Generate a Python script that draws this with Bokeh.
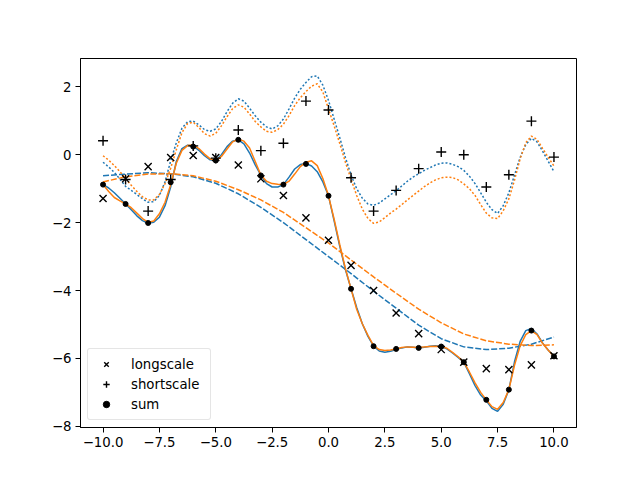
from bokeh.plotting import figure
from bokeh.models import Range1d, FixedTicker, CustomJSTickFormatter
from bokeh.embed import file_html
from bokeh.resources import INLINE

# observed points
x_pts = [-10, -9, -8, -7, -6, -5, -4, -3, -2, -1, 0, 1, 2, 3, 4, 5, 6, 7, 8, 9, 10]
longscale = [-1.29, -0.71, -0.35, -0.08, -0.02, -0.08, -0.3, -0.71, -1.2, -1.86, -2.52,
             -3.26, -4.0, -4.66, -5.27, -5.74, -6.11, -6.3, -6.33, -6.19, -5.92]
shortscale = [0.41, -0.73, -1.66, -0.73, 0.26, -0.1, 0.73, 0.12, 0.34, 1.58, 1.32,
              -0.68, -1.66, -1.05, -0.41, 0.08, 0.0, -0.95, -0.59, 0.99, -0.07]
sum_vals = [-0.88, -1.45, -2.01, -0.81, 0.24, -0.17, 0.44, -0.61, -0.88, -0.27, -1.21,
            -3.95, -5.64, -5.72, -5.69, -5.65, -6.11, -7.22, -6.92, -5.18, -5.94]

# model curves, read at quarter-unit steps from -10 to 10
x_curve = [-10 + 0.25 * i for i in range(81)]
sum_blue = [-0.88, -0.98, -1.12, -1.28, -1.45, -1.62, -1.8, -1.94, -2.02, -1.99, -1.84, -1.5,
            -0.95, -0.2, 0.18, 0.28, 0.26, 0.13, -0.03, -0.15, -0.17, 0.0, 0.24, 0.4, 0.44,
            0.32, 0.05, -0.3, -0.6, -0.85, -0.95, -0.95, -0.88, -0.66, -0.42, -0.29, -0.26,
            -0.33, -0.5, -0.8, -1.21, -1.95, -2.7, -3.38, -3.95, -4.5, -4.98, -5.35, -5.64,
            -5.78, -5.82, -5.79, -5.74, -5.69, -5.66, -5.67, -5.69, -5.67, -5.64, -5.63, -5.65,
            -5.72, -5.84, -5.97, -6.11, -6.45, -6.8, -7.08, -7.25, -7.47, -7.56, -7.35, -6.92,
            -6.1, -5.5, -5.18, -5.12, -5.28, -5.55, -5.76, -5.94]
sum_orange = [-0.88, -1.08, -1.26, -1.36, -1.45, -1.56, -1.72, -1.88, -1.99, -1.95, -1.74, -1.4,
              -0.88, -0.25, 0.13, 0.27, 0.29, 0.18, 0.02, -0.12, -0.18, -0.05, 0.17, 0.38, 0.46,
              0.4, 0.2, -0.2, -0.6, -0.78, -0.85, -0.87, -0.88, -0.78, -0.57, -0.35, -0.22,
              -0.18, -0.32, -0.7, -1.21, -1.9, -2.65, -3.35, -3.95, -4.55, -4.98, -5.32, -5.62,
              -5.74, -5.77, -5.75, -5.72, -5.68, -5.66, -5.67, -5.68, -5.66, -5.65, -5.64, -5.65,
              -5.7, -5.82, -5.95, -6.11, -6.4, -6.72, -7.0, -7.22, -7.42, -7.5, -7.3, -6.92,
              -6.2, -5.63, -5.3, -5.18, -5.3, -5.56, -5.76, -5.94]
short_blue = [-0.22, -0.36, -0.52, -0.72, -0.93, -1.05, -1.17, -1.3, -1.4, -1.38, -1.2, -0.8,
              -0.18, 0.35, 0.78, 0.97, 0.99, 0.88, 0.74, 0.69, 0.76, 0.98, 1.27, 1.52, 1.65,
              1.58, 1.37, 1.15, 0.96, 0.82, 0.76, 0.85, 1.05, 1.35, 1.67, 1.93, 2.13, 2.3, 2.32,
              2.05, 1.6, 1.05, 0.5, -0.08, -0.6, -1.0, -1.28, -1.45, -1.49, -1.42, -1.3, -1.18,
              -1.06, -0.92, -0.78, -0.66, -0.56, -0.46, -0.38, -0.3, -0.25, -0.24, -0.28, -0.35,
              -0.46, -0.63, -0.85, -1.12, -1.4, -1.62, -1.73, -1.5, -1.12, -0.6, -0.08, 0.3,
              0.48, 0.38, 0.1, -0.2, -0.5]
short_orange = [-0.03, -0.16, -0.32, -0.5, -0.7, -0.9, -1.08, -1.24, -1.33, -1.33, -1.17, -0.85,
                -0.4, 0.15, 0.65, 0.92, 0.96, 0.8, 0.62, 0.55, 0.63, 0.85, 1.12, 1.36, 1.47,
                1.4, 1.2, 0.98, 0.82, 0.69, 0.66, 0.74, 0.9, 1.15, 1.45, 1.68, 1.86, 2.02, 2.09,
                1.85, 1.35, 0.85, 0.33, -0.22, -0.72, -1.2, -1.6, -1.88, -2.02, -1.98, -1.85,
                -1.72, -1.6, -1.47, -1.33, -1.2, -1.07, -0.94, -0.83, -0.74, -0.68, -0.66, -0.67,
                -0.74, -0.86, -1.0, -1.2, -1.47, -1.72, -1.86, -1.88, -1.65, -1.3, -0.75, -0.12,
                0.35, 0.55, 0.45, 0.18, -0.08, -0.33]
x_long = [-10, -9, -8, -7, -6, -5, -4, -3, -2, -1, 0, 1, 2, 3, 4, 5, 6, 7, 8, 9, 10]
long_blue = [-0.62, -0.57, -0.53, -0.56, -0.65, -0.84, -1.15, -1.55, -2.0, -2.5, -3.0,
             -3.5, -4.02, -4.52, -5.02, -5.42, -5.66, -5.74, -5.7, -5.58, -5.37]
long_orange = [-0.8, -0.65, -0.57, -0.56, -0.62, -0.78, -1.03, -1.33, -1.7, -2.15, -2.6,
               -3.1, -3.6, -4.08, -4.55, -4.95, -5.28, -5.48, -5.58, -5.62, -5.6]

x_ticks = [-10, -7.5, -5, -2.5, 0, 2.5, 5, 7.5, 10]
y_ticks = [-8, -6, -4, -2, 0, 2]

BLUE = "#1f77b4"
ORANGE = "#ff7f0e"

p = figure(width=624, height=464, output_backend="svg", toolbar_location=None,
           x_range=Range1d(-11, 11), y_range=Range1d(-8.035, 2.835))
p.min_border_left = 80
p.min_border_right = 48
p.min_border_top = 58
p.min_border_bottom = 37
p.background_fill_color = "white"
p.border_fill_color = "white"
p.outline_line_color = "black"
p.outline_line_width = 1
p.grid.visible = False

for ax, ticks, code in ((p.xaxis[0], x_ticks, "return tick.toFixed(1).replace('-', '\\u2212');"),
                        (p.yaxis[0], y_ticks, "return tick.toFixed(0).replace('-', '\\u2212');")):
    ax.ticker = FixedTicker(ticks=ticks)
    ax.formatter = CustomJSTickFormatter(code=code)
    ax.major_tick_in = 0
    ax.major_tick_out = 5
    ax.minor_tick_line_color = None
    ax.axis_line_color = "black"
    ax.major_tick_line_color = "black"
    ax.major_label_text_color = "black"
    ax.major_label_text_font = "DejaVu Sans"
    ax.major_label_text_font_size = "13.3px"
    ax.major_label_standoff = 4

p.line(x_curve, sum_blue, line_color=BLUE, line_width=1.5)
p.line(x_long, long_blue, line_color=BLUE, line_width=1.5, line_dash="6 2")
p.line(x_curve, short_blue, line_color=BLUE, line_width=1.5, line_dash="2 2")
p.line(x_curve, sum_orange, line_color=ORANGE, line_width=1.5)
p.line(x_long, long_orange, line_color=ORANGE, line_width=1.5, line_dash="6 2")
p.line(x_curve, short_orange, line_color=ORANGE, line_width=1.5, line_dash="2 2")

p.scatter(x_pts, longscale, marker="x", size=10, line_color="black", line_width=1.4,
          legend_label="longscale")
p.scatter(x_pts, shortscale, marker="cross", size=10, line_color="black", line_width=1.4,
          legend_label="shortscale")
p.scatter(x_pts, sum_vals, marker="circle", size=5, fill_color="black", line_color="black",
          legend_label="sum")

lg = p.legend[0]
lg.location = "bottom_left"
lg.margin = 7
lg.padding = 5
lg.spacing = 0
lg.glyph_width = 26
lg.glyph_height = 16
lg.label_height = 20
lg.label_standoff = 12
lg.label_width = 74
lg.label_text_font = "DejaVu Sans"
lg.label_text_font_size = "13.3px"
lg.label_text_color = "black"
lg.border_line_color = "#cccccc"
lg.border_line_width = 1
lg.background_fill_alpha = 0.8
if hasattr(lg, "border_radius"):
    lg.border_radius = 3

open("out.html", "w").write(file_html(p, INLINE))
